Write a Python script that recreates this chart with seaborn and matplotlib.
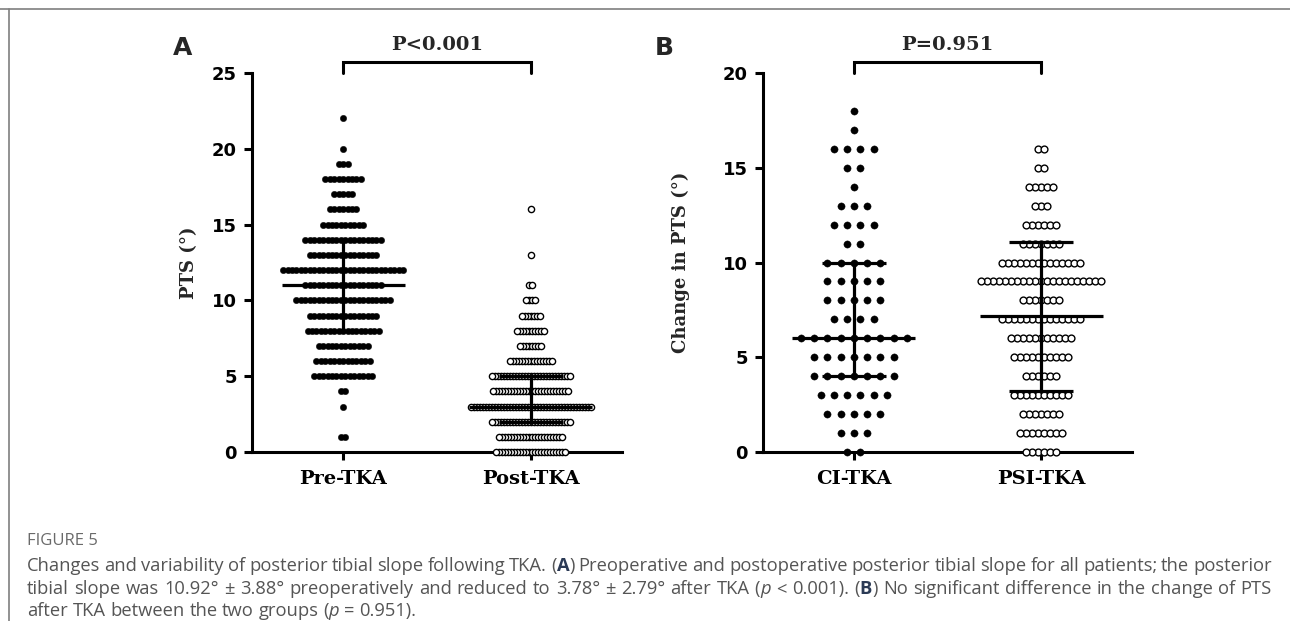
import numpy as np
import pandas as pd
import seaborn as sns
import matplotlib
matplotlib.use('Agg')
import matplotlib.pyplot as plt
from matplotlib.lines import Line2D

W, H = 1290, 621

# ========================
# data (number of patients at each whole-degree value)
# ========================
pts_vals = list(range(0, 23))
pre_counts = [0, 2, 0, 1, 2, 14, 13, 12, 17, 16, 22, 18, 28, 16, 18, 10, 7, 5, 9, 3, 1, 0, 1]
post_counts = [24, 22, 27, 41, 26, 27, 15, 8, 10, 7, 4, 2, 0, 1, 0, 0, 1, 0, 0, 0, 0, 0, 0]

chg_vals = list(range(0, 19))
ci_counts = [2, 3, 5, 6, 7, 7, 9, 4, 5, 5, 5, 2, 4, 3, 1, 2, 4, 1, 1]
psi_counts = [6, 8, 7, 10, 6, 10, 11, 14, 7, 21, 14, 7, 6, 3, 5, 2, 2, 0, 0]

groups_a = ['Pre-TKA', 'Post-TKA']
groups_b = ['CI-TKA', 'PSI-TKA']

# centre line and error bar ends as drawn (A: median/IQR, B as plotted)
center_a = [11, 3]
low_a = [8, 2]
high_a = [14, 5]
center_b = [6, 7.16]
low_b = [4, 3.24]
high_b = [10, 11.08]

p_text = ['P<0.001', 'P=0.951']

sns.set_style('ticks')
plt.rcParams['font.family'] = ['DejaVu Sans']
plt.rcParams['axes.linewidth'] = 2.2
plt.rcParams['xtick.major.width'] = 2.2
plt.rcParams['ytick.major.width'] = 2.2
plt.rcParams['xtick.major.size'] = 6
plt.rcParams['ytick.major.size'] = 6
plt.rcParams['xtick.color'] = 'black'
plt.rcParams['ytick.color'] = 'black'
plt.rcParams['axes.edgecolor'] = 'black'


def dot_rows(vals, counts, pos, px_per_unit):
    # spread equal values sideways in one row, centre first then outwards
    nmax = max(counts)
    step = min(13.3, 120 / max(nmax - 1, 1)) / px_per_unit
    rows = []
    for v, n in zip(vals, counts):
        offs = [(k - (n - 1) / 2) * step for k in range(n)]
        offs.sort(key=lambda o: (abs(o), o))
        for o in offs:
            rows.append({'x': pos + o, 'value': v})
    return pd.DataFrame(rows, columns=['x', 'value'])


def draw_panel(ax, vals, counts_list, names, styles, centers, lows, highs,
               ymax, ystep, ylabel, label_x, ptxt):
    ax.set_xlim(-0.485, 1.485)
    ax.set_ylim(0, ymax)
    bbox = ax.get_position()
    px_x = bbox.width * W / (1.485 + 0.485)
    px_y = bbox.height * H / ymax
    for i, (counts, st) in enumerate(zip(counts_list, styles)):
        df = dot_rows(vals, counts, i, px_x)
        sns.scatterplot(data=df, x='x', y='value', ax=ax, marker='o',
                        s=st['s'], color=st['fc'], edgecolor='black',
                        linewidth=st['lw'], clip_on=False, zorder=3, legend=False)
        # centre line and whiskers
        hw = 61.5 / px_x
        cw = 32 / px_x
        ax.plot([i - hw, i + hw], [centers[i]] * 2, color='black', lw=2.3, zorder=4,
                solid_capstyle='butt')
        ax.plot([i, i], [lows[i], highs[i]], color='black', lw=2.3, zorder=4)
        for yv in (lows[i], highs[i]):
            ax.plot([i - cw, i + cw], [yv] * 2, color='black', lw=2.3, zorder=4,
                    solid_capstyle='butt')

    sns.despine(ax=ax)
    ax.set_yticks(np.arange(0, ymax + 1, ystep))
    ax.set_yticklabels([str(int(t)) for t in np.arange(0, ymax + 1, ystep)],
                       fontsize=13, fontweight='bold', family='DejaVu Sans')
    ax.set_xticks([0, 1])
    ax.set_xticklabels(names, fontsize=14, fontweight='bold', family='DejaVu Serif')
    ax.tick_params(axis='x', pad=7)
    ax.tick_params(axis='y', pad=5)
    ax.set_xlabel('')
    ax.set_ylabel(ylabel, fontsize=13, fontweight='bold', family='DejaVu Serif')
    ax.yaxis.set_label_coords(label_x, 0.5)

    # significance bracket
    y_top = ymax + 11 / px_y
    y_leg = ymax + 0.2 / px_y
    ax.plot([0, 0, 1, 1], [y_leg, y_top, y_top, y_leg], color='black', lw=2.2,
            clip_on=False, solid_joinstyle='miter')
    ax.text(0.5, ymax + 23 / px_y, ptxt, ha='center', va='baseline', fontsize=14,
            fontweight='bold', family='DejaVu Serif')


fig = plt.figure(figsize=(W / 100, H / 100), dpi=100)
ax_a = fig.add_axes([252 / W, 1 - 452 / H, 370 / W, 379 / H])
ax_b = fig.add_axes([763 / W, 1 - 452 / H, 369 / W, 379 / H])

filled = {'s': 21, 'fc': 'black', 'lw': 0.3}
open_post = {'s': 20, 'fc': 'white', 'lw': 1.0}
filled_b = {'s': 27, 'fc': 'black', 'lw': 0.3}
open_psi = {'s': 24, 'fc': 'white', 'lw': 1.0}

draw_panel(ax_a, pts_vals, [pre_counts, post_counts], groups_a, [filled, open_post],
           center_a, low_a, high_a, 25, 5, 'PTS (°)', -0.146, p_text[0])
draw_panel(ax_b, chg_vals, [ci_counts, psi_counts], groups_b, [filled_b, open_psi],
           center_b, low_b, high_b, 20, 5, 'Change in PTS (°)', -0.198, p_text[1])

fig.text(173 / W, 1 - 55 / H, 'A', fontsize=18, fontweight='bold', va='baseline')
fig.text(655 / W, 1 - 55 / H, 'B', fontsize=18, fontweight='bold', va='baseline')

# frame rules of the figure page
fig.add_artist(Line2D([0, 1], [1 - 9 / H] * 2, color='#7f7f7f', lw=1.2))
fig.add_artist(Line2D([9 / W, 9 / W], [0, 1 - 9 / H], color='#7f7f7f', lw=1.2))

# ========================
# caption
# ========================
gray = '#555555'
cap_font = ['Open Sans', 'DejaVu Sans']
fig.text(27 / W, 1 - 541 / H, 'FIGURE 5', fontsize=12, color='#6a6a6a',
         family=cap_font, va='center')

N, B, I = 'n', 'b', 'i'
cap_lines = [
    [(N, 'Changes and variability of posterior tibial slope following TKA. ('), (B, 'A'),
     (N, ') Preoperative and postoperative posterior tibial slope for all patients; the posterior')],
    [(N, 'tibial slope was 10.92° ± 3.88° preoperatively and reduced to 3.78° ± 2.79° after TKA ('),
     (I, 'p'), (N, ' < 0.001). ('), (B, 'B'),
     (N, ') No significant difference in the change of PTS')],
    [(N, 'after TKA between the two groups ('), (I, 'p'), (N, ' = 0.951).')],
]
cap_y = [566, 589, 611]
justify = [True, True, False]
renderer = fig.canvas.get_renderer()


def run_kw(kind):
    kw = dict(fontsize=13.2, family=cap_font, va='center', color=gray)
    if kind == B:
        kw.update(fontweight='bold', color='#2b3a55')
    if kind == I:
        kw.update(style='italic')
    return kw


for runs, ypx, just in zip(cap_lines, cap_y, justify):
    # split into words, each word = list of (kind, piece)
    words = [[]]
    for kind, txt in runs:
        parts = txt.split(' ')
        for j, part in enumerate(parts):
            if j > 0:
                words.append([])
            if part:
                words[-1].append((kind, part))
    words = [w for w in words if w]
    widths = []
    for w in words:
        tot = 0
        for kind, piece in w:
            t = fig.text(0, 0, piece, **run_kw(kind))
            tot += t.get_window_extent(renderer).width
            t.remove()
        widths.append(tot)
    sp = fig.text(0, 0, 'a a', **run_kw(N))
    sa = fig.text(0, 0, 'aa', **run_kw(N))
    space_w = sp.get_window_extent(renderer).width - sa.get_window_extent(renderer).width
    sp.remove()
    sa.remove()
    if just:
        gap = max((1272 - 27 - sum(widths)) / (len(words) - 1), space_w * 0.6)
    else:
        gap = space_w
    x = 27.0
    for w, wd in zip(words, widths):
        xx = x
        for kind, piece in w:
            t = fig.text(xx / W, 1 - ypx / H, piece, **run_kw(kind))
            xx += t.get_window_extent(renderer).width
        x += wd + gap

fig.savefig('out.png', dpi=100)
